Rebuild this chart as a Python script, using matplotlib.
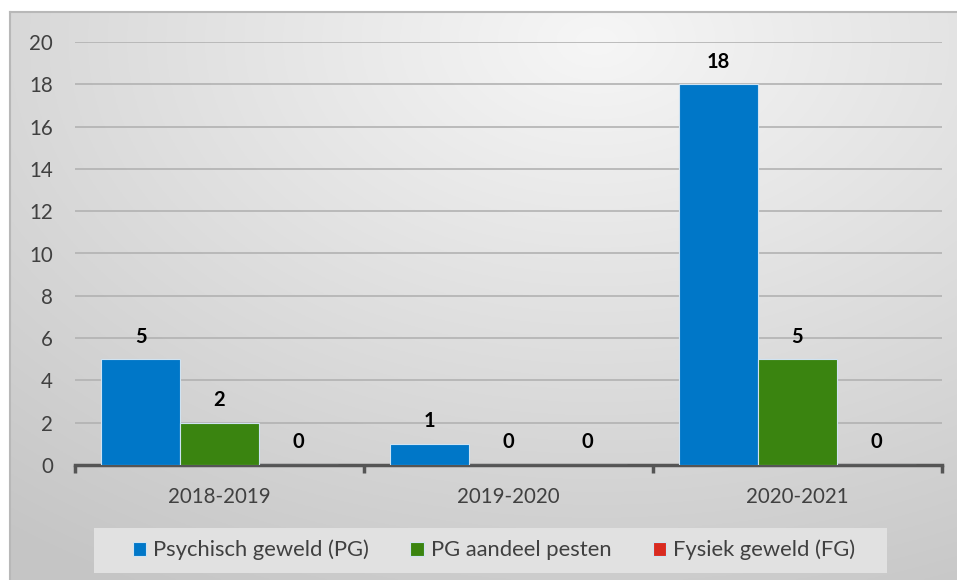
import matplotlib.pyplot as plt
from matplotlib.patches import Rectangle
import numpy as np

plt.rcParams['font.family'] = ['Lato', 'DejaVu Sans']

# data
years = ['2018-2019', '2019-2020', '2020-2021']
psychisch = [5, 1, 18]
pesten = [2, 0, 5]
fysiek = [0, 0, 0]
series_names = ['Psychisch geweld (PG)', 'PG aandeel pesten', 'Fysiek geweld (FG)']
colors = ['#0077C8', '#3A8410', '#D92B20']

fig = plt.figure(figsize=(9.57, 5.80), dpi=100)
fig.patch.set_facecolor('white')

# gradient panel behind everything
bg = fig.add_axes([10/957, 0, 947/957, 568/580], zorder=-10)
yy, xx = np.mgrid[0:1:300j, 0:1:500j]
d = np.sqrt(((xx - 0.62) / 1.0) ** 2 + ((yy - 0.05) / 1.1) ** 2)
shade = 0.965 - 0.19 * np.clip(d, 0, 1)
bg.imshow(np.dstack([shade] * 3), aspect='auto', extent=[0, 1, 0, 1],
          origin='upper')
bg.set_xlim(0, 1)
bg.set_ylim(0, 1)
for s in ['top', 'left']:
    bg.spines[s].set_color('#b8b8b8')
    bg.spines[s].set_linewidth(1.5)
for s in ['bottom', 'right']:
    bg.spines[s].set_visible(False)
bg.set_xticks([])
bg.set_yticks([])

# legend band
fig.patches.append(Rectangle((94/957, 7/580), 793/957, 45/580,
                             transform=fig.transFigure, facecolor='#e1e1e1',
                             edgecolor='none', zorder=-5))

ax = fig.add_axes([75/957, 1 - 465/580, 867/957, 423/580])
ax.set_facecolor('none')

x = np.arange(len(years))
w = 0.273
for i, (vals, name, c) in enumerate(zip([psychisch, pesten, fysiek], series_names, colors)):
    pos = x + (i - 1) * w
    ax.bar(pos, vals, w, color=c, edgecolor='#cfe3f2', linewidth=0.8,
           label=name, zorder=3)
    for p, v in zip(pos, vals):
        ax.annotate(str(v), (p, v), xytext=(0, 12), textcoords='offset points',
                    ha='center', va='baseline', fontsize=14.5, fontweight='bold',
                    color='black')

ax.set_xlim(-0.5, 2.5)
ax.set_ylim(0, 20)
ax.set_yticks(range(0, 21, 2))
ax.yaxis.grid(True, color='#b2b2b2', linewidth=1.2, zorder=0)
ax.set_axisbelow(True)
ax.tick_params(axis='y', length=0, pad=16, labelsize=14.8, labelcolor='#404040')

ax.set_xticks(x)
ax.set_xticklabels(years)
ax.set_xticks([-0.5, 0.5, 1.5, 2.5], minor=True)
ax.tick_params(axis='x', which='major', length=0, pad=16, labelsize=14.8,
               labelcolor='#404040')
ax.tick_params(axis='x', which='minor', length=6, width=2.5, color='#555555',
               direction='out')

for s in ['top', 'left', 'right']:
    ax.spines[s].set_visible(False)
ax.spines['bottom'].set_color('#555555')
ax.spines['bottom'].set_linewidth(2.5)

leg = fig.legend(loc='center', bbox_to_anchor=(494/957, 1 - 550/580), ncol=3,
                 frameon=False, fontsize=15.8, handlelength=0.6,
                 handleheight=0.6, handletextpad=0.32, columnspacing=1.9,
                 borderpad=0)
for t in leg.get_texts():
    t.set_color('#404040')

fig.savefig('out.png', dpi=100)
